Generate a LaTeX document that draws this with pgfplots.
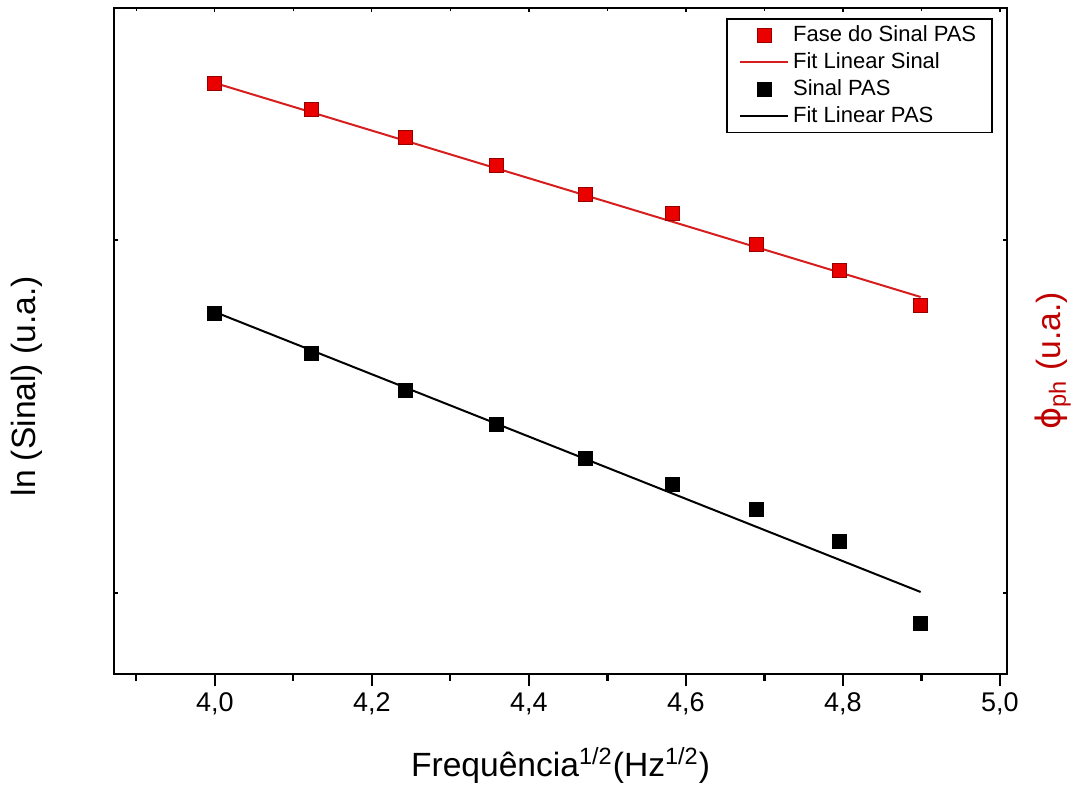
\documentclass[border=0pt]{standalone}
\usepackage{fontspec}
\setmainfont{Liberation Sans}
\newfontfamily\dejavu{DejaVu Sans}
\usepackage{pgfplots}
\pgfplotsset{compat=1.18}
\definecolor{fitred}{RGB}{215,30,30}
\definecolor{markred}{RGB}{235,0,0}
\definecolor{markredborder}{RGB}{150,0,0}
\definecolor{labred}{RGB}{190,0,0}
\begin{document}
\begin{tikzpicture}
\pgfplotsset{common/.style={width=446.5pt,height=333pt,scale only axis,
  xmin=3.8715, xmax=5.009, ymin=0, ymax=666}}
\begin{axis}[common,
  axis line style={line width=1.3pt},
  xtick={4.0,4.2,4.4,4.6,4.8,5.0},
  minor xtick={3.9,4.1,4.3,4.5,4.7,4.9},
  xtick pos=left, tick align=outside,
  major tick length=6pt, minor tick length=3.5pt,
  tick style={line width=1.1pt, black},
  ytick=\empty,
  xticklabel style={font=\fontsize{13.5}{16}\selectfont,
    /pgf/number format/.cd, fixed, fixed zerofill, precision=1, use comma, assume math mode=true},
  xlabel={Frequência\textsuperscript{1/2}(Hz\textsuperscript{1/2})},
  xlabel style={at={(axis description cs:0.5,-0.137)}, anchor=center, font=\fontsize{16.8}{20}\selectfont},
  ylabel={ln (Sinal) (u.a.)},
  ylabel style={at={(axis description cs:-0.0974,0.432)}, anchor=center, font=\fontsize{16.8}{20}\selectfont},
  legend image code/.code={\draw[mark repeat=2,mark phase=2,#1] plot coordinates {(0pt,0pt) (12pt,0pt) (24pt,0pt)};},
  legend style={at={(axis description cs:0.9843,0.985)}, anchor=north east, draw=black, line width=0.8pt,
    font=\fontsize{11}{13}\selectfont, inner xsep=6pt, inner ysep=1.5pt, row sep=0pt,
    cells={anchor=west}},
  clip=false,
]
\addplot[only marks, mark=square*, mark size=3.5pt, mark options={fill=markred, draw=markredborder, line width=0.5pt}]
  coordinates {(4.000,590.7) (4.123,564) (4.243,536.7) (4.359,508.3) (4.472,479.7) (4.583,460.7) (4.690,429) (4.796,403.3) (4.899,368)};
\addlegendentry{Fase do Sinal PAS}
\addplot[no marks, fitred, line width=1pt] coordinates {(4.0,591) (4.899,377)};
\addlegendentry{Fit Linear Sinal}
\addplot[only marks, mark=square*, mark size=3.5pt, mark options={fill=black, draw=black, line width=0.5pt}]
  coordinates {(4.000,360.7) (4.123,320.7) (4.243,283) (4.359,249.7) (4.472,215.7) (4.583,189.7) (4.690,164) (4.796,132.3) (4.899,50)};
\addlegendentry{Sinal PAS}
\addplot[no marks, black, line width=1pt] coordinates {(4.0,362) (4.899,82)};
\addlegendentry{Fit Linear PAS}
\node[rotate=90, text=labred, font=\fontsize{16.8}{20}\selectfont] at (axis description cs:1.0515,0.47) {{\dejavu ϕ}\textsubscript{ph} (u.a.)};
\end{axis}
\begin{axis}[common,
  axis line style={draw=none},
  xtick={4.0,4.2,4.4,4.6,4.8,5.0},
  minor xtick={3.9,4.1,4.3,4.5,4.7,4.9},
  xticklabels={}, xtick pos=right,
  ytick={81,434}, yticklabels={}, ytick pos=both,
  tick align=inside, major tick length=2pt, minor tick length=1.5pt,
  tick style={line width=0.6pt, black},
]
\addplot[draw=none] coordinates {(4,100)};
\end{axis}
\pgfresetboundingbox
\path[use as bounding box] ([xshift=-57pt,yshift=-56.5pt]current axis.south west) rectangle ([xshift=38pt,yshift=4pt]current axis.north east);
\end{tikzpicture}
\end{document}
